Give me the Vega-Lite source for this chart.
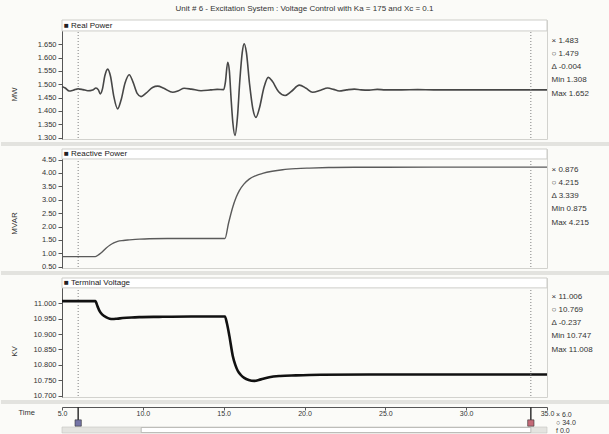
{
  "$schema": "https://vega.github.io/schema/vega-lite/v6.json",
  "background": "#fbfbf8",
  "padding": {"left": 0, "top": 5, "right": 0, "bottom": 0},
  "bounds": "flush",
  "spacing": 10,
  "title": {"text": "Unit # 6 - Excitation System : Voltage Control with Ka = 175 and Xc = 0.1", "fontSize": 8, "font": "Liberation Sans", "fontWeight": "normal", "color": "#333", "offset": 6, "anchor": "middle", "frame": "group"},
  "config": {
    "font": "Liberation Sans",
    "view": {"fill": "white", "stroke": "#d2d2ce"},
    "axis": {"labelFont": "Liberation Sans", "labelFontSize": 7.5, "labelColor": "#333", "domainColor": "#555", "tickColor": "#555", "tickSize": 4, "labelPadding": 2, "labelOverlap": false, "tickCount": 30, "grid": false, "titleFont": "Liberation Sans", "titleFontWeight": "normal", "titleColor": "#333", "titleFontSize": 8},
    "legend": {"labelFont": "Liberation Sans", "labelFontSize": 8, "labelColor": "#333", "symbolOpacity": 0, "symbolSize": 0, "symbolStrokeWidth": 0, "labelOffset": 0},
    "title": {"font": "Liberation Sans", "fontSize": 8, "fontWeight": "normal", "color": "#222"}
  },
  "resolve": {"scale": {"color": "independent", "x": "independent", "y": "independent"}, "legend": {"color": "independent"}},
  "datasets": {
    "mw": [{"t":5.0,"v":1.492},{"t":5.2,"v":1.486},{"t":5.45,"v":1.475},{"t":5.7,"v":1.478},{"t":6.0,"v":1.483},{"t":6.3,"v":1.480},{"t":6.6,"v":1.476},{"t":6.9,"v":1.479},{"t":7.1,"v":1.486},{"t":7.25,"v":1.479},{"t":7.37,"v":1.464},{"t":7.5,"v":1.482},{"t":7.65,"v":1.532},{"t":7.83,"v":1.557},{"t":8.0,"v":1.530},{"t":8.2,"v":1.456},{"t":8.44,"v":1.408},{"t":8.65,"v":1.440},{"t":8.9,"v":1.505},{"t":9.16,"v":1.536},{"t":9.4,"v":1.507},{"t":9.65,"v":1.466},{"t":9.89,"v":1.454},{"t":10.2,"v":1.467},{"t":10.6,"v":1.488},{"t":10.92,"v":1.493},{"t":11.3,"v":1.485},{"t":11.85,"v":1.470},{"t":12.2,"v":1.476},{"t":12.56,"v":1.485},{"t":13.0,"v":1.482},{"t":13.6,"v":1.476},{"t":14.2,"v":1.479},{"t":14.6,"v":1.481},{"t":15.0,"v":1.480},{"t":15.1,"v":1.505},{"t":15.25,"v":1.582},{"t":15.35,"v":1.552},{"t":15.45,"v":1.455},{"t":15.57,"v":1.355},{"t":15.7,"v":1.308},{"t":15.85,"v":1.375},{"t":16.0,"v":1.515},{"t":16.15,"v":1.620},{"t":16.27,"v":1.652},{"t":16.4,"v":1.622},{"t":16.6,"v":1.502},{"t":16.8,"v":1.410},{"t":17.0,"v":1.376},{"t":17.2,"v":1.408},{"t":17.5,"v":1.490},{"t":17.76,"v":1.526},{"t":18.0,"v":1.512},{"t":18.4,"v":1.472},{"t":18.8,"v":1.458},{"t":19.2,"v":1.474},{"t":19.68,"v":1.497},{"t":20.1,"v":1.485},{"t":20.5,"v":1.470},{"t":21.0,"v":1.478},{"t":21.43,"v":1.486},{"t":21.8,"v":1.481},{"t":22.15,"v":1.475},{"t":22.6,"v":1.479},{"t":23.08,"v":1.482},{"t":23.5,"v":1.479},{"t":24.0,"v":1.478},{"t":24.5,"v":1.481},{"t":25.0,"v":1.479},{"t":26.0,"v":1.479},{"t":27.0,"v":1.480},{"t":28.0,"v":1.479},{"t":30.0,"v":1.479},{"t":32.0,"v":1.479},{"t":34.0,"v":1.479},{"t":35.0,"v":1.479}],
    "mvar": [{"t":5.0,"v":0.876},{"t":7.06,"v":0.876},{"t":7.3,"v":0.96},{"t":7.5,"v":1.06},{"t":7.72,"v":1.19},{"t":8.0,"v":1.32},{"t":8.2,"v":1.39},{"t":8.44,"v":1.447},{"t":8.8,"v":1.48},{"t":9.16,"v":1.50},{"t":9.8,"v":1.53},{"t":10.4,"v":1.545},{"t":11.5,"v":1.552},{"t":15.08,"v":1.553},{"t":15.3,"v":2.12},{"t":15.56,"v":2.72},{"t":15.78,"v":3.10},{"t":15.97,"v":3.34},{"t":16.25,"v":3.58},{"t":16.58,"v":3.77},{"t":17.0,"v":3.90},{"t":17.41,"v":3.98},{"t":18.0,"v":4.06},{"t":18.65,"v":4.12},{"t":19.5,"v":4.16},{"t":20.3,"v":4.18},{"t":21.5,"v":4.20},{"t":23.2,"v":4.21},{"t":25.0,"v":4.213},{"t":28.0,"v":4.215},{"t":35.0,"v":4.215}],
    "kv": [{"t":5.0,"v":11.007},{"t":7.06,"v":11.007},{"t":7.2,"v":10.99},{"t":7.31,"v":10.976},{"t":7.5,"v":10.963},{"t":7.72,"v":10.955},{"t":7.95,"v":10.950},{"t":8.13,"v":10.949},{"t":8.4,"v":10.950},{"t":8.75,"v":10.952},{"t":9.3,"v":10.954},{"t":9.78,"v":10.955},{"t":11.0,"v":10.956},{"t":13.0,"v":10.957},{"t":15.08,"v":10.957},{"t":15.2,"v":10.935},{"t":15.35,"v":10.895},{"t":15.56,"v":10.83},{"t":15.72,"v":10.80},{"t":15.87,"v":10.781},{"t":16.05,"v":10.768},{"t":16.27,"v":10.758},{"t":16.55,"v":10.751},{"t":16.89,"v":10.748},{"t":17.3,"v":10.753},{"t":17.82,"v":10.760},{"t":18.5,"v":10.764},{"t":19.47,"v":10.766},{"t":21.0,"v":10.768},{"t":24.0,"v":10.769},{"t":35.0,"v":10.769}],
    "cursors": [{"t": 6, "c": "x"}, {"t": 34, "c": "o"}],
    "info1": [{"k": "× 1.483"}, {"k": "○ 1.479"}, {"k": "Δ -0.004"}, {"k": "Min 1.308"}, {"k": "Max 1.652"}],
    "info2": [{"k": "× 0.876"}, {"k": "○ 4.215"}, {"k": "Δ 3.339"}, {"k": "Min 0.875"}, {"k": "Max 4.215"}],
    "info3": [{"k": "× 11.006"}, {"k": "○ 10.769"}, {"k": "Δ -0.237"}, {"k": "Min 10.747"}, {"k": "Max 11.008"}],
    "info4": [{"k": "× 6.0"}, {"k": "○ 34.0"}, {"k": "f 0.0"}]
  },
  "vconcat": [
    {
      "width": 485, "height": 119,
      "title": {"text": "■  Real Power", "anchor": "start", "frame": "group", "offset": -10.5, "dx": 2},
      "layer": [
        {"data": {"name": "mw"}, "mark": {"type": "line", "color": "#474747", "strokeWidth": 1.6, "interpolate": "monotone"},
         "encoding": {
           "x": {"field": "t", "type": "quantitative", "scale": {"domain": [5, 35], "nice": false, "zero": false}, "axis": null},
           "y": {"field": "v", "type": "quantitative", "scale": {"domain": [1.295, 1.741], "nice": false, "zero": false},
                 "axis": {"title": "MW", "values": [1.3, 1.35, 1.4, 1.45, 1.5, 1.55, 1.6, 1.65], "tickCount": 30, "format": ".3f", "labelOverlap": false, "titleX": -48, "titleY": 74, "titleBaseline": "middle"}}}},
        {"data": {"values": [{}]}, "mark": {"type": "rect", "fill": "#e3e3df"},
         "encoding": {"x": {"datum": 1.2268}, "x2": {"datum": 38.897}, "y": {"datum": 1.2838}, "y2": {"datum": 1.2688}}},
        {"data": {"name": "cursors"}, "mark": {"type": "rule", "color": "#808080", "strokeDash": [1, 2], "strokeWidth": 1},
         "encoding": {"x": {"field": "t", "type": "quantitative"}}},
        {"data": {"values": [{}]}, "mark": {"type": "rect", "fill": "white", "stroke": "#cdcdc9", "strokeWidth": 1},
         "encoding": {"y": {"datum": 1.70}, "y2": {"datum": 1.741}}},
        {"data": {"name": "info1"}, "mark": {"type": "point", "opacity": 0},
         "encoding": {"color": {"field": "k", "type": "nominal", "sort": null, "scale": {"range": ["#333333"]},
           "legend": {"title": null, "orient": "right", "offset": -20.5, "padding": 16.5, "rowPadding": 5.3}}}}
      ]
    },
    {
      "width": 485, "height": 119,
      "title": {"text": "■  Reactive Power", "anchor": "start", "frame": "group", "offset": -9.5, "dx": 2},
      "layer": [
        {"data": {"name": "mvar"}, "mark": {"type": "line", "color": "#5a5a5a", "strokeWidth": 1.4, "interpolate": "monotone"},
         "encoding": {
           "x": {"field": "t", "type": "quantitative", "scale": {"domain": [5, 35], "nice": false, "zero": false}, "axis": null},
           "y": {"field": "v", "type": "quantitative", "scale": {"domain": [0.4515, 4.892], "nice": false, "zero": false},
                 "axis": {"title": "MVAR", "values": [0.5, 1, 1.5, 2, 2.5, 3, 3.5, 4, 4.5], "tickCount": 30, "format": ".2f", "labelOverlap": false, "titleX": -48, "titleY": 74, "titleBaseline": "middle"}}}},
        {"data": {"values": [{}]}, "mark": {"type": "rect", "fill": "#e3e3df"},
         "encoding": {"x": {"datum": 1.2268}, "x2": {"datum": 38.897}, "y": {"datum": 0.34}, "y2": {"datum": 0.19}}},
        {"data": {"name": "cursors"}, "mark": {"type": "rule", "color": "#808080", "strokeDash": [1, 2], "strokeWidth": 1},
         "encoding": {"x": {"field": "t", "type": "quantitative"}}},
        {"data": {"values": [{}]}, "mark": {"type": "rect", "fill": "white", "stroke": "#cdcdc9", "strokeWidth": 1},
         "encoding": {"y": {"datum": 4.52}, "y2": {"datum": 4.892}}},
        {"data": {"name": "info2"}, "mark": {"type": "point", "opacity": 0},
         "encoding": {"color": {"field": "k", "type": "nominal", "sort": null, "scale": {"range": ["#333333"]},
           "legend": {"title": null, "orient": "right", "offset": -20.5, "padding": 16.5, "rowPadding": 5.3}}}}
      ]
    },
    {
      "width": 485, "height": 119,
      "title": {"text": "■  Terminal Voltage", "anchor": "start", "frame": "group", "offset": -9.5, "dx": 2},
      "layer": [
        {"data": {"name": "kv"}, "mark": {"type": "line", "color": "#111111", "strokeWidth": 2.6, "interpolate": "monotone"},
         "encoding": {
           "x": {"field": "t", "type": "quantitative", "scale": {"domain": [5, 35], "nice": false, "zero": false}, "axis": null},
           "y": {"field": "v", "type": "quantitative", "scale": {"domain": [10.6958, 11.0821], "nice": false, "zero": false},
                 "axis": {"title": "KV", "values": [10.7, 10.75, 10.8, 10.85, 10.9, 10.95, 11.0], "tickCount": 30, "format": ".3f", "labelOverlap": false, "titleX": -48, "titleY": 73, "titleBaseline": "middle"}}}},
        {"data": {"values": [{}]}, "mark": {"type": "rect", "fill": "#e3e3df"},
         "encoding": {"x": {"datum": 1.2268}, "x2": {"datum": 38.897}, "y": {"datum": 10.6861}, "y2": {"datum": 10.6731}}},
        {"data": {"name": "cursors"}, "mark": {"type": "rule", "color": "#808080", "strokeDash": [1, 2], "strokeWidth": 1},
         "encoding": {"x": {"field": "t", "type": "quantitative"}}},
        {"data": {"values": [{}]}, "mark": {"type": "rect", "fill": "white", "stroke": "#cdcdc9", "strokeWidth": 1},
         "encoding": {"y": {"datum": 11.05}, "y2": {"datum": 11.0821}}},
        {"data": {"name": "info3"}, "mark": {"type": "point", "opacity": 0},
         "encoding": {"color": {"field": "k", "type": "nominal", "sort": null, "scale": {"range": ["#333333"]},
           "legend": {"title": null, "orient": "right", "offset": -18.5, "padding": 14.5, "rowPadding": 5.3}}}}
      ]
    },
    {
      "width": 485, "height": 26,
      "view": {"fill": null, "stroke": null},
      "layer": [
        {"data": {"values": [{}]}, "mark": {"type": "rect", "fill": "#e4e4e0", "stroke": "#c4c4c0", "strokeWidth": 0.6},
         "encoding": {"y": {"datum": 0, "scale": {"domain": [0, 26], "nice": false, "zero": false}, "axis": null}, "y2": {"datum": 6}}},
        {"data": {"values": [{}]}, "mark": {"type": "rect", "fill": "white", "stroke": "#b0b0ac", "strokeWidth": 0.8},
         "encoding": {"x": {"datum": 9.9, "scale": {"domain": [5, 35], "nice": false, "zero": false}}, "x2": {"datum": 34.0}, "y": {"datum": 0.5}, "y2": {"datum": 5.5}}},
        {"data": {"name": "cursors"}, "mark": {"type": "rule", "color": "#333", "strokeWidth": 1.5},
         "encoding": {
           "x": {"field": "t", "type": "quantitative", "scale": {"domain": [5, 35], "nice": false, "zero": false},
                 "axis": {"orient": "bottom", "offset": -26, "values": [5, 10, 15, 20, 25, 30, 35], "tickCount": 30, "format": ".1f", "labelFontSize": 7, "labelFlush": false, "labelOverlap": false, "tickSize": 3, "labelPadding": -1, "title": "Time", "titleX": -44, "titleY": 5, "titleAlign": "left", "titleAngle": 0, "titleBaseline": "middle", "titleFontSize": 7.5}},
           "y": {"datum": 26}, "y2": {"datum": 11}}},
        {"data": {"name": "cursors"}, "transform": [{"filter": "datum.c == 'x'"}], "mark": {"type": "point", "shape": "square", "filled": true, "size": 40, "color": "#7474a6", "stroke": "#333", "strokeWidth": 0.6, "opacity": 1},
         "encoding": {"x": {"field": "t", "type": "quantitative"}, "y": {"datum": 10}}},
        {"data": {"name": "cursors"}, "transform": [{"filter": "datum.c == 'o'"}], "mark": {"type": "point", "shape": "square", "filled": true, "size": 40, "color": "#c46a78", "stroke": "#333", "strokeWidth": 0.6, "opacity": 1},
         "encoding": {"x": {"field": "t", "type": "quantitative"}, "y": {"datum": 10}}},
        {"data": {"name": "info4"}, "mark": {"type": "point", "opacity": 0},
         "encoding": {"color": {"field": "k", "type": "nominal", "sort": null, "scale": {"range": ["#333333"]},
           "legend": {"title": null, "orient": "right", "offset": -2, "padding": 4, "rowPadding": 0.2, "labelFontSize": 7}}}}
      ]
    }
  ]
}
